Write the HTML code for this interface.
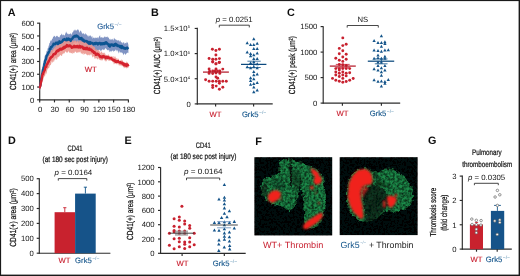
<!DOCTYPE html>
<html><head><meta charset="utf-8"><style>
html,body{margin:0;padding:0;background:#fff;}
#w{position:relative;width:520px;height:276px;overflow:hidden;will-change:transform;background:#fff;}
svg{position:absolute;left:0;top:0;}
text{font-family:"Liberation Sans",sans-serif;text-rendering:geometricPrecision;}
</style></head><body><div id="w">
<svg width="520" height="276" viewBox="0 0 520 276">
<filter id="soft" x="0" y="0" width="100%" height="100%"><feGaussianBlur stdDeviation="0.35"/></filter>
<rect x="0" y="0" width="520" height="276" fill="#fff"/>
<g filter="url(#soft)">
<text x="7.7" y="16" font-size="10.8" fill="#111" font-weight="bold">A</text>
<text x="150.89999999999998" y="16" font-size="10.8" fill="#111" font-weight="bold">B</text>
<text x="286.9" y="16" font-size="10.8" fill="#111" font-weight="bold">C</text>
<text x="8.0" y="144.1" font-size="10.8" fill="#111" font-weight="bold">D</text>
<text x="124.5" y="144.1" font-size="10.8" fill="#111" font-weight="bold">E</text>
<text x="255.2" y="144.6" font-size="10.8" fill="#111" font-weight="bold">F</text>
<text x="428.0" y="144.3" font-size="10.8" fill="#111" font-weight="bold">G</text>
<line x1="39.7" y1="22.8" x2="39.7" y2="100.3" stroke="#2b2b2b" stroke-width="1.15"/>
<line x1="39.2" y1="99.8" x2="128.7" y2="99.8" stroke="#2b2b2b" stroke-width="1.15"/>
<line x1="37.1" y1="99.8" x2="39.7" y2="99.8" stroke="#2b2b2b" stroke-width="1.15"/>
<text x="34.3" y="102.55" font-size="7.7" fill="#161616" text-anchor="end">0</text>
<line x1="37.1" y1="87.03" x2="39.7" y2="87.03" stroke="#2b2b2b" stroke-width="1.15"/>
<text x="34.3" y="89.78" font-size="7.7" fill="#161616" text-anchor="end">100</text>
<line x1="37.1" y1="74.25999999999999" x2="39.7" y2="74.25999999999999" stroke="#2b2b2b" stroke-width="1.15"/>
<text x="34.3" y="77.01" font-size="7.7" fill="#161616" text-anchor="end">200</text>
<line x1="37.1" y1="61.489999999999995" x2="39.7" y2="61.489999999999995" stroke="#2b2b2b" stroke-width="1.15"/>
<text x="34.3" y="64.24" font-size="7.7" fill="#161616" text-anchor="end">300</text>
<line x1="37.1" y1="48.71999999999999" x2="39.7" y2="48.71999999999999" stroke="#2b2b2b" stroke-width="1.15"/>
<text x="34.3" y="51.47" font-size="7.7" fill="#161616" text-anchor="end">400</text>
<line x1="37.1" y1="35.949999999999996" x2="39.7" y2="35.949999999999996" stroke="#2b2b2b" stroke-width="1.15"/>
<text x="34.3" y="38.7" font-size="7.7" fill="#161616" text-anchor="end">500</text>
<line x1="37.1" y1="23.179999999999993" x2="39.7" y2="23.179999999999993" stroke="#2b2b2b" stroke-width="1.15"/>
<text x="34.3" y="25.93" font-size="7.7" fill="#161616" text-anchor="end">600</text>
<line x1="39.7" y1="99.8" x2="39.7" y2="102.39999999999999" stroke="#2b2b2b" stroke-width="1.15"/>
<text x="40.1" y="112.4" font-size="7.7" fill="#161616" text-anchor="middle">0</text>
<line x1="54.483333333333334" y1="99.8" x2="54.483333333333334" y2="102.39999999999999" stroke="#2b2b2b" stroke-width="1.15"/>
<text x="54.88" y="112.4" font-size="7.7" fill="#161616" text-anchor="middle">30</text>
<line x1="69.26666666666668" y1="99.8" x2="69.26666666666668" y2="102.39999999999999" stroke="#2b2b2b" stroke-width="1.15"/>
<text x="69.67" y="112.4" font-size="7.7" fill="#161616" text-anchor="middle">60</text>
<line x1="84.05000000000001" y1="99.8" x2="84.05000000000001" y2="102.39999999999999" stroke="#2b2b2b" stroke-width="1.15"/>
<text x="84.45" y="112.4" font-size="7.7" fill="#161616" text-anchor="middle">90</text>
<line x1="98.83333333333334" y1="99.8" x2="98.83333333333334" y2="102.39999999999999" stroke="#2b2b2b" stroke-width="1.15"/>
<text x="99.23" y="112.4" font-size="7.7" fill="#161616" text-anchor="middle">120</text>
<line x1="113.61666666666667" y1="99.8" x2="113.61666666666667" y2="102.39999999999999" stroke="#2b2b2b" stroke-width="1.15"/>
<text x="114.02" y="112.4" font-size="7.7" fill="#161616" text-anchor="middle">150</text>
<line x1="128.4" y1="99.8" x2="128.4" y2="102.39999999999999" stroke="#2b2b2b" stroke-width="1.15"/>
<text x="128.8" y="112.4" font-size="7.7" fill="#161616" text-anchor="middle">180</text>
<text transform="translate(15.7,61.4) rotate(-90)" font-size="8.8" fill="#111" stroke="#111" stroke-width="0.22" text-anchor="middle" textLength="57.2" lengthAdjust="spacingAndGlyphs">CD41(+) area (μm²)</text>
<path d="M39.70,84.63 L39.95,83.43 L40.19,82.03 L40.44,80.53 L40.69,78.44 L40.93,76.24 L41.18,74.17 L41.42,72.83 L41.67,70.64 L41.92,69.21 L42.16,68.22 L42.41,67.15 L42.66,65.80 L42.90,64.37 L43.15,62.95 L43.40,61.73 L43.64,60.76 L43.89,60.04 L44.14,59.81 L44.38,58.07 L44.63,56.49 L44.87,55.72 L45.12,55.27 L45.37,54.44 L45.61,54.43 L45.86,54.66 L46.11,53.35 L46.35,52.58 L46.60,50.85 L46.85,50.67 L47.09,51.57 L47.34,50.84 L47.58,48.48 L47.83,48.15 L48.08,48.22 L48.32,47.62 L48.57,46.31 L48.82,45.45 L49.06,44.96 L49.31,43.39 L49.56,43.06 L49.80,42.99 L50.05,42.29 L50.29,41.29 L50.54,40.79 L50.79,40.03 L51.03,41.21 L51.28,40.88 L51.53,39.88 L51.77,40.08 L52.02,39.05 L52.27,38.73 L52.51,38.47 L52.76,38.63 L53.01,36.80 L53.25,36.42 L53.50,36.89 L53.74,36.95 L53.99,35.29 L54.24,36.39 L54.48,35.98 L54.73,35.83 L54.98,36.33 L55.22,37.48 L55.47,37.22 L55.72,36.89 L55.96,35.88 L56.21,35.97 L56.45,36.47 L56.70,35.95 L56.95,35.58 L57.19,35.63 L57.44,36.11 L57.69,36.75 L57.93,36.14 L58.18,37.03 L58.43,37.30 L58.67,36.72 L58.92,37.21 L59.16,36.87 L59.41,37.64 L59.66,37.13 L59.90,35.77 L60.15,35.04 L60.40,34.98 L60.64,35.00 L60.89,36.05 L61.14,34.15 L61.38,33.88 L61.63,33.35 L61.88,34.68 L62.12,34.83 L62.37,35.72 L62.61,34.89 L62.86,34.14 L63.11,35.31 L63.35,35.05 L63.60,34.03 L63.85,35.03 L64.09,35.67 L64.34,35.44 L64.59,34.92 L64.83,35.15 L65.08,34.15 L65.32,33.65 L65.57,33.08 L65.82,32.46 L66.06,31.67 L66.31,31.56 L66.56,32.79 L66.80,32.75 L67.05,33.47 L67.30,34.10 L67.54,33.72 L67.79,33.50 L68.03,33.14 L68.28,34.03 L68.53,34.65 L68.77,33.93 L69.02,34.02 L69.27,34.17 L69.51,33.93 L69.76,34.15 L70.01,33.34 L70.25,33.18 L70.50,33.43 L70.75,33.97 L70.99,33.64 L71.24,35.09 L71.48,34.63 L71.73,33.57 L71.98,33.95 L72.22,32.86 L72.47,32.20 L72.72,32.46 L72.96,31.97 L73.21,31.76 L73.46,31.07 L73.70,30.47 L73.95,30.31 L74.19,30.80 L74.44,30.43 L74.69,29.82 L74.93,29.50 L75.18,29.43 L75.43,30.01 L75.67,30.68 L75.92,30.42 L76.17,30.60 L76.41,30.78 L76.66,30.26 L76.90,30.33 L77.15,29.71 L77.40,29.38 L77.64,30.02 L77.89,28.68 L78.14,29.74 L78.38,29.49 L78.63,30.51 L78.88,30.30 L79.12,32.26 L79.37,32.66 L79.62,32.20 L79.86,31.61 L80.11,30.20 L80.35,30.63 L80.60,30.77 L80.85,31.14 L81.09,31.31 L81.34,31.62 L81.59,32.17 L81.83,32.68 L82.08,33.59 L82.33,33.06 L82.57,33.96 L82.82,34.03 L83.06,32.74 L83.31,33.41 L83.56,33.83 L83.80,33.34 L84.05,33.76 L84.30,34.65 L84.54,34.55 L84.79,34.10 L85.04,33.82 L85.28,34.82 L85.53,33.32 L85.77,33.10 L86.02,33.84 L86.27,34.29 L86.51,35.00 L86.76,34.17 L87.01,35.18 L87.25,34.83 L87.50,35.77 L87.75,36.57 L87.99,35.85 L88.24,35.31 L88.49,35.97 L88.73,36.92 L88.98,36.14 L89.22,36.28 L89.47,35.98 L89.72,35.38 L89.96,35.23 L90.21,36.42 L90.46,35.06 L90.70,35.62 L90.95,35.77 L91.20,36.46 L91.44,36.49 L91.69,37.78 L91.93,36.58 L92.18,35.79 L92.43,37.20 L92.67,38.30 L92.92,38.88 L93.17,37.42 L93.41,37.51 L93.66,37.68 L93.91,37.69 L94.15,37.49 L94.40,37.97 L94.64,37.77 L94.89,38.77 L95.14,38.25 L95.38,37.87 L95.63,37.46 L95.88,37.45 L96.12,38.06 L96.37,38.07 L96.62,38.29 L96.86,37.35 L97.11,36.98 L97.36,37.33 L97.60,37.89 L97.85,38.26 L98.09,38.45 L98.34,38.23 L98.59,37.47 L98.83,37.05 L99.08,36.60 L99.33,35.24 L99.57,36.18 L99.82,36.53 L100.07,34.73 L100.31,37.15 L100.56,37.61 L100.80,37.63 L101.05,37.26 L101.30,37.20 L101.54,37.44 L101.79,37.20 L102.04,37.23 L102.28,36.87 L102.53,38.26 L102.78,38.08 L103.02,37.60 L103.27,37.90 L103.51,37.96 L103.76,37.06 L104.01,37.56 L104.25,36.97 L104.50,36.33 L104.75,36.63 L104.99,36.58 L105.24,36.69 L105.49,37.54 L105.73,37.20 L105.98,36.55 L106.23,36.88 L106.47,36.99 L106.72,36.64 L106.96,37.41 L107.21,36.77 L107.46,35.90 L107.70,37.13 L107.95,37.45 L108.20,38.04 L108.44,37.20 L108.69,37.75 L108.94,37.54 L109.18,38.91 L109.43,38.96 L109.67,39.07 L109.92,40.51 L110.17,38.91 L110.41,38.49 L110.66,40.29 L110.91,39.59 L111.15,39.60 L111.40,39.33 L111.65,39.05 L111.89,40.04 L112.14,39.73 L112.38,38.49 L112.63,38.96 L112.88,39.55 L113.12,40.12 L113.37,40.76 L113.62,39.78 L113.86,38.29 L114.11,38.51 L114.36,38.83 L114.60,37.40 L114.85,38.92 L115.10,39.63 L115.34,38.93 L115.59,39.00 L115.83,39.87 L116.08,40.25 L116.33,39.80 L116.57,39.53 L116.82,40.35 L117.07,40.44 L117.31,40.70 L117.56,40.21 L117.81,40.27 L118.05,40.45 L118.30,40.82 L118.54,40.34 L118.79,39.88 L119.04,40.62 L119.28,40.39 L119.53,41.50 L119.78,41.69 L120.02,40.88 L120.27,40.10 L120.52,40.91 L120.76,41.70 L121.01,41.63 L121.25,42.69 L121.50,42.11 L121.75,42.38 L121.99,41.97 L122.24,42.65 L122.49,43.99 L122.73,43.10 L122.98,42.56 L123.23,42.97 L123.47,42.02 L123.72,42.11 L123.97,42.85 L124.21,42.60 L124.46,43.70 L124.70,43.78 L124.95,43.55 L125.20,43.03 L125.44,42.97 L125.69,42.74 L125.94,43.59 L126.18,43.51 L126.43,42.16 L126.68,42.95 L126.92,41.24 L127.17,42.30 L127.41,42.71 L127.66,42.73 L127.91,42.60 L128.15,43.88 L128.40,45.07 L128.40,53.49 L128.15,52.63 L127.91,53.12 L127.66,52.54 L127.41,52.64 L127.17,52.78 L126.92,52.63 L126.68,53.56 L126.43,53.60 L126.18,53.75 L125.94,53.99 L125.69,54.47 L125.44,55.21 L125.20,54.46 L124.95,53.95 L124.70,53.22 L124.46,53.19 L124.21,53.71 L123.97,53.93 L123.72,54.30 L123.47,54.94 L123.23,55.27 L122.98,54.30 L122.73,53.28 L122.49,52.90 L122.24,52.77 L121.99,52.55 L121.75,52.40 L121.50,52.55 L121.25,52.16 L121.01,53.26 L120.76,52.50 L120.52,51.65 L120.27,52.71 L120.02,52.27 L119.78,52.86 L119.53,51.93 L119.28,50.47 L119.04,51.22 L118.79,53.48 L118.54,53.29 L118.30,51.99 L118.05,51.05 L117.81,51.62 L117.56,51.05 L117.31,50.06 L117.07,49.91 L116.82,49.74 L116.57,50.75 L116.33,51.73 L116.08,50.18 L115.83,49.02 L115.59,49.90 L115.34,50.33 L115.10,50.64 L114.85,51.16 L114.60,50.94 L114.36,50.52 L114.11,51.02 L113.86,51.42 L113.62,52.29 L113.37,51.12 L113.12,50.38 L112.88,50.63 L112.63,50.30 L112.38,51.07 L112.14,50.70 L111.89,50.78 L111.65,51.25 L111.40,52.56 L111.15,50.98 L110.91,51.51 L110.66,51.17 L110.41,51.32 L110.17,51.74 L109.92,49.62 L109.67,51.14 L109.43,52.39 L109.18,51.56 L108.94,51.39 L108.69,49.14 L108.44,50.24 L108.20,50.02 L107.95,50.24 L107.70,50.40 L107.46,49.74 L107.21,49.92 L106.96,50.35 L106.72,49.33 L106.47,49.12 L106.23,48.79 L105.98,48.60 L105.73,48.62 L105.49,48.08 L105.24,48.21 L104.99,48.73 L104.75,49.04 L104.50,49.38 L104.25,49.91 L104.01,49.76 L103.76,50.12 L103.51,50.19 L103.27,49.24 L103.02,49.48 L102.78,49.62 L102.53,49.26 L102.28,49.14 L102.04,50.06 L101.79,50.66 L101.54,50.09 L101.30,51.02 L101.05,50.14 L100.80,51.34 L100.56,50.69 L100.31,50.53 L100.07,50.22 L99.82,50.23 L99.57,49.53 L99.33,49.46 L99.08,49.94 L98.83,49.90 L98.59,49.80 L98.34,50.24 L98.09,51.68 L97.85,50.50 L97.60,50.13 L97.36,50.31 L97.11,50.88 L96.86,51.16 L96.62,50.00 L96.37,50.62 L96.12,50.49 L95.88,49.99 L95.63,50.44 L95.38,51.74 L95.14,50.80 L94.89,50.42 L94.64,50.37 L94.40,49.78 L94.15,50.09 L93.91,49.38 L93.66,50.18 L93.41,49.35 L93.17,50.06 L92.92,50.09 L92.67,49.73 L92.43,48.18 L92.18,49.69 L91.93,50.39 L91.69,50.55 L91.44,48.44 L91.20,48.82 L90.95,49.41 L90.70,50.09 L90.46,50.57 L90.21,48.89 L89.96,48.82 L89.72,48.90 L89.47,49.33 L89.22,48.80 L88.98,49.37 L88.73,50.97 L88.49,49.88 L88.24,48.54 L87.99,48.04 L87.75,48.92 L87.50,48.76 L87.25,47.89 L87.01,49.03 L86.76,47.73 L86.51,48.55 L86.27,47.07 L86.02,46.40 L85.77,47.99 L85.53,47.22 L85.28,47.50 L85.04,47.91 L84.79,47.93 L84.54,45.62 L84.30,46.60 L84.05,46.93 L83.80,46.07 L83.56,46.55 L83.31,45.49 L83.06,47.22 L82.82,46.42 L82.57,46.25 L82.33,45.34 L82.08,45.62 L81.83,46.30 L81.59,45.50 L81.34,45.26 L81.09,45.98 L80.85,45.09 L80.60,45.01 L80.35,45.07 L80.11,44.23 L79.86,44.36 L79.62,44.95 L79.37,44.81 L79.12,44.11 L78.88,43.83 L78.63,43.44 L78.38,43.45 L78.14,42.75 L77.89,41.80 L77.64,42.30 L77.40,41.69 L77.15,41.64 L76.90,41.95 L76.66,42.61 L76.41,43.14 L76.17,43.00 L75.92,42.04 L75.67,41.61 L75.43,41.52 L75.18,42.77 L74.93,42.83 L74.69,41.79 L74.44,42.68 L74.19,42.31 L73.95,42.80 L73.70,42.51 L73.46,43.32 L73.21,43.55 L72.96,43.87 L72.72,44.18 L72.47,45.61 L72.22,44.46 L71.98,45.74 L71.73,46.65 L71.48,45.79 L71.24,46.05 L70.99,46.83 L70.75,46.13 L70.50,46.48 L70.25,46.52 L70.01,45.87 L69.76,47.88 L69.51,46.45 L69.27,46.07 L69.02,44.66 L68.77,45.05 L68.53,45.82 L68.28,46.20 L68.03,46.68 L67.79,46.33 L67.54,46.52 L67.30,46.56 L67.05,45.91 L66.80,45.34 L66.56,46.34 L66.31,46.77 L66.06,47.23 L65.82,46.30 L65.57,46.96 L65.32,46.50 L65.08,45.51 L64.83,46.52 L64.59,46.90 L64.34,46.27 L64.09,45.85 L63.85,45.99 L63.60,46.67 L63.35,47.34 L63.11,47.22 L62.86,45.25 L62.61,46.11 L62.37,47.65 L62.12,46.71 L61.88,46.36 L61.63,46.61 L61.38,46.69 L61.14,46.40 L60.89,47.60 L60.64,47.82 L60.40,47.66 L60.15,47.81 L59.90,48.87 L59.66,49.37 L59.41,49.60 L59.16,49.70 L58.92,48.80 L58.67,49.94 L58.43,49.08 L58.18,49.34 L57.93,48.98 L57.69,49.52 L57.44,49.73 L57.19,48.66 L56.95,49.17 L56.70,48.91 L56.45,47.82 L56.21,48.90 L55.96,49.35 L55.72,49.75 L55.47,49.64 L55.22,49.64 L54.98,48.53 L54.73,48.97 L54.48,48.34 L54.24,49.35 L53.99,49.65 L53.74,49.22 L53.50,50.49 L53.25,50.81 L53.01,50.64 L52.76,51.94 L52.51,53.27 L52.27,53.64 L52.02,52.53 L51.77,52.86 L51.53,52.59 L51.28,53.47 L51.03,53.92 L50.79,54.36 L50.54,54.87 L50.29,55.35 L50.05,56.60 L49.80,56.08 L49.56,56.26 L49.31,56.35 L49.06,57.38 L48.82,57.77 L48.57,59.56 L48.32,58.83 L48.08,59.44 L47.83,60.95 L47.58,60.64 L47.34,61.21 L47.09,62.87 L46.85,62.49 L46.60,62.97 L46.35,64.09 L46.11,64.76 L45.86,65.45 L45.61,66.88 L45.37,67.55 L45.12,68.22 L44.87,69.09 L44.63,70.58 L44.38,71.28 L44.14,71.92 L43.89,72.49 L43.64,72.81 L43.40,72.97 L43.15,75.45 L42.90,77.55 L42.66,79.00 L42.41,81.65 L42.16,80.86 L41.92,81.62 L41.67,81.14 L41.42,83.00 L41.18,83.93 L40.93,85.63 L40.69,86.90 L40.44,88.10 L40.19,89.39 L39.95,90.15 L39.70,91.00Z" fill="#8094c3" opacity="1.0"/>
<path d="M39.70,85.02 L39.95,83.74 L40.19,82.10 L40.44,80.66 L40.69,79.61 L40.93,77.71 L41.18,75.67 L41.42,73.42 L41.67,71.82 L41.92,70.83 L42.16,70.69 L42.41,70.29 L42.66,68.99 L42.90,68.07 L43.15,68.15 L43.40,67.49 L43.64,66.86 L43.89,65.71 L44.14,64.87 L44.38,64.43 L44.63,64.35 L44.87,62.79 L45.12,61.16 L45.37,60.90 L45.61,60.20 L45.86,59.98 L46.11,59.51 L46.35,59.29 L46.60,59.41 L46.85,58.70 L47.09,57.45 L47.34,57.50 L47.58,55.96 L47.83,54.70 L48.08,54.25 L48.32,53.33 L48.57,53.59 L48.82,54.16 L49.06,54.37 L49.31,54.31 L49.56,53.57 L49.80,53.16 L50.05,52.42 L50.29,53.51 L50.54,51.39 L50.79,49.96 L51.03,50.83 L51.28,50.57 L51.53,50.02 L51.77,49.89 L52.02,50.21 L52.27,50.01 L52.51,50.39 L52.76,49.99 L53.01,49.69 L53.25,48.95 L53.50,49.15 L53.74,48.60 L53.99,48.29 L54.24,47.70 L54.48,48.01 L54.73,47.23 L54.98,46.52 L55.22,46.52 L55.47,47.03 L55.72,46.71 L55.96,46.71 L56.21,45.87 L56.45,44.72 L56.70,45.12 L56.95,45.58 L57.19,45.31 L57.44,45.22 L57.69,45.40 L57.93,45.61 L58.18,45.02 L58.43,44.48 L58.67,45.17 L58.92,45.27 L59.16,44.13 L59.41,44.82 L59.66,44.05 L59.90,43.41 L60.15,43.45 L60.40,43.82 L60.64,43.55 L60.89,43.54 L61.14,42.96 L61.38,43.77 L61.63,42.63 L61.88,43.84 L62.12,43.59 L62.37,43.17 L62.61,42.05 L62.86,42.49 L63.11,41.65 L63.35,42.14 L63.60,41.59 L63.85,40.16 L64.09,40.76 L64.34,40.35 L64.59,41.17 L64.83,40.12 L65.08,39.35 L65.32,39.57 L65.57,40.48 L65.82,39.75 L66.06,39.08 L66.31,38.81 L66.56,38.94 L66.80,40.31 L67.05,40.53 L67.30,39.35 L67.54,40.40 L67.79,39.38 L68.03,38.48 L68.28,38.67 L68.53,38.62 L68.77,39.55 L69.02,40.72 L69.27,40.54 L69.51,40.57 L69.76,40.42 L70.01,39.83 L70.25,40.01 L70.50,40.30 L70.75,40.17 L70.99,40.44 L71.24,39.19 L71.48,39.73 L71.73,40.19 L71.98,40.59 L72.22,41.08 L72.47,39.87 L72.72,40.14 L72.96,40.86 L73.21,41.27 L73.46,41.36 L73.70,41.20 L73.95,40.18 L74.19,41.02 L74.44,40.45 L74.69,40.30 L74.93,41.32 L75.18,40.82 L75.43,40.83 L75.67,40.24 L75.92,40.62 L76.17,40.70 L76.41,42.02 L76.66,42.04 L76.90,41.00 L77.15,40.32 L77.40,40.55 L77.64,41.15 L77.89,40.46 L78.14,42.04 L78.38,42.07 L78.63,40.92 L78.88,40.46 L79.12,40.99 L79.37,41.75 L79.62,39.97 L79.86,39.87 L80.11,40.62 L80.35,40.47 L80.60,39.93 L80.85,42.02 L81.09,40.77 L81.34,40.45 L81.59,41.77 L81.83,40.79 L82.08,42.04 L82.33,41.18 L82.57,41.04 L82.82,39.88 L83.06,41.24 L83.31,41.70 L83.56,41.56 L83.80,42.24 L84.05,42.74 L84.30,42.37 L84.54,42.28 L84.79,42.93 L85.04,42.05 L85.28,41.70 L85.53,41.83 L85.77,40.98 L86.02,41.91 L86.27,41.10 L86.51,41.86 L86.76,41.35 L87.01,43.10 L87.25,42.73 L87.50,42.98 L87.75,43.14 L87.99,43.73 L88.24,43.73 L88.49,43.91 L88.73,44.92 L88.98,44.84 L89.22,44.57 L89.47,44.72 L89.72,45.28 L89.96,45.22 L90.21,44.33 L90.46,44.42 L90.70,44.97 L90.95,44.24 L91.20,44.13 L91.44,43.72 L91.69,43.56 L91.93,44.73 L92.18,45.59 L92.43,45.29 L92.67,46.01 L92.92,46.04 L93.17,46.07 L93.41,46.29 L93.66,46.93 L93.91,46.83 L94.15,47.26 L94.40,47.27 L94.64,46.85 L94.89,47.36 L95.14,47.69 L95.38,48.95 L95.63,49.96 L95.88,49.92 L96.12,49.35 L96.37,48.63 L96.62,49.82 L96.86,49.48 L97.11,50.51 L97.36,50.56 L97.60,50.47 L97.85,49.80 L98.09,50.21 L98.34,49.81 L98.59,51.03 L98.83,50.35 L99.08,50.37 L99.33,51.00 L99.57,51.34 L99.82,52.06 L100.07,52.74 L100.31,53.02 L100.56,53.28 L100.80,51.05 L101.05,51.79 L101.30,50.93 L101.54,51.55 L101.79,52.04 L102.04,52.10 L102.28,53.17 L102.53,52.61 L102.78,52.71 L103.02,53.73 L103.27,53.11 L103.51,53.06 L103.76,52.78 L104.01,51.91 L104.25,52.82 L104.50,52.91 L104.75,53.07 L104.99,54.22 L105.24,53.27 L105.49,54.69 L105.73,55.54 L105.98,54.68 L106.23,55.23 L106.47,54.86 L106.72,55.61 L106.96,54.78 L107.21,55.42 L107.46,54.61 L107.70,55.67 L107.95,54.80 L108.20,54.85 L108.44,54.69 L108.69,54.58 L108.94,54.54 L109.18,55.31 L109.43,56.57 L109.67,55.73 L109.92,56.06 L110.17,56.06 L110.41,55.56 L110.66,56.86 L110.91,56.82 L111.15,56.25 L111.40,56.49 L111.65,55.73 L111.89,55.91 L112.14,56.54 L112.38,57.03 L112.63,56.13 L112.88,56.83 L113.12,56.09 L113.37,56.08 L113.62,57.39 L113.86,58.15 L114.11,57.68 L114.36,57.19 L114.60,56.69 L114.85,56.37 L115.10,56.11 L115.34,56.92 L115.59,57.65 L115.83,57.39 L116.08,58.37 L116.33,57.63 L116.57,58.97 L116.82,58.36 L117.07,58.71 L117.31,60.09 L117.56,58.63 L117.81,58.19 L118.05,58.37 L118.30,59.01 L118.54,59.43 L118.79,58.60 L119.04,59.56 L119.28,61.91 L119.53,61.57 L119.78,61.54 L120.02,60.38 L120.27,60.38 L120.52,60.68 L120.76,60.81 L121.01,59.75 L121.25,60.66 L121.50,58.83 L121.75,59.88 L121.99,60.71 L122.24,60.08 L122.49,59.84 L122.73,61.08 L122.98,60.80 L123.23,62.54 L123.47,62.61 L123.72,61.38 L123.97,61.62 L124.21,62.86 L124.46,62.22 L124.70,61.71 L124.95,62.21 L125.20,63.64 L125.44,63.29 L125.69,62.61 L125.94,62.09 L126.18,61.01 L126.43,61.94 L126.68,62.53 L126.92,62.59 L127.17,61.76 L127.41,62.76 L127.66,61.92 L127.91,64.08 L128.15,63.12 L128.40,63.11 L128.40,68.09 L128.15,67.70 L127.91,68.37 L127.66,68.06 L127.41,68.10 L127.17,67.13 L126.92,68.41 L126.68,68.56 L126.43,68.01 L126.18,68.37 L125.94,67.11 L125.69,67.79 L125.44,67.84 L125.20,67.98 L124.95,68.15 L124.70,67.49 L124.46,67.48 L124.21,67.75 L123.97,68.73 L123.72,67.33 L123.47,67.07 L123.23,67.04 L122.98,66.47 L122.73,65.66 L122.49,65.74 L122.24,66.23 L121.99,66.54 L121.75,65.90 L121.50,64.34 L121.25,66.21 L121.01,65.35 L120.76,66.00 L120.52,65.87 L120.27,64.82 L120.02,64.67 L119.78,64.91 L119.53,66.11 L119.28,65.06 L119.04,65.78 L118.79,65.22 L118.54,64.15 L118.30,63.94 L118.05,64.57 L117.81,64.40 L117.56,63.18 L117.31,63.44 L117.07,64.14 L116.82,64.70 L116.57,62.78 L116.33,63.16 L116.08,63.93 L115.83,63.86 L115.59,62.88 L115.34,62.39 L115.10,62.00 L114.85,63.02 L114.60,63.64 L114.36,64.07 L114.11,64.17 L113.86,64.56 L113.62,63.44 L113.37,62.48 L113.12,61.46 L112.88,62.44 L112.63,62.11 L112.38,61.84 L112.14,61.77 L111.89,60.69 L111.65,60.43 L111.40,60.68 L111.15,59.88 L110.91,60.58 L110.66,60.46 L110.41,60.94 L110.17,60.17 L109.92,60.91 L109.67,60.60 L109.43,60.42 L109.18,60.71 L108.94,60.31 L108.69,60.93 L108.44,60.55 L108.20,60.44 L107.95,59.53 L107.70,60.25 L107.46,60.10 L107.21,60.12 L106.96,60.29 L106.72,60.89 L106.47,60.60 L106.23,61.17 L105.98,62.16 L105.73,61.05 L105.49,61.13 L105.24,60.59 L104.99,59.73 L104.75,60.30 L104.50,60.64 L104.25,60.32 L104.01,58.75 L103.76,59.82 L103.51,58.91 L103.27,58.85 L103.02,58.92 L102.78,60.66 L102.53,60.27 L102.28,59.92 L102.04,60.54 L101.79,60.57 L101.54,59.57 L101.30,60.19 L101.05,60.76 L100.80,60.16 L100.56,59.90 L100.31,60.17 L100.07,59.70 L99.82,60.07 L99.57,59.49 L99.33,59.18 L99.08,59.66 L98.83,59.31 L98.59,58.77 L98.34,57.99 L98.09,58.53 L97.85,59.28 L97.60,59.87 L97.36,58.96 L97.11,58.95 L96.86,58.35 L96.62,58.42 L96.37,58.17 L96.12,58.17 L95.88,58.64 L95.63,57.81 L95.38,57.83 L95.14,59.29 L94.89,59.03 L94.64,58.70 L94.40,57.59 L94.15,57.17 L93.91,56.40 L93.66,56.81 L93.41,56.13 L93.17,56.58 L92.92,57.01 L92.67,57.77 L92.43,56.82 L92.18,56.84 L91.93,55.80 L91.69,55.18 L91.44,54.43 L91.20,53.89 L90.95,54.66 L90.70,54.21 L90.46,54.27 L90.21,55.21 L89.96,55.38 L89.72,55.71 L89.47,54.56 L89.22,54.87 L88.98,55.32 L88.73,55.29 L88.49,54.23 L88.24,54.92 L87.99,55.04 L87.75,54.82 L87.50,55.88 L87.25,55.08 L87.01,54.70 L86.76,54.69 L86.51,54.07 L86.27,54.70 L86.02,54.54 L85.77,53.82 L85.53,53.40 L85.28,53.60 L85.04,54.10 L84.79,53.86 L84.54,54.04 L84.30,54.21 L84.05,54.75 L83.80,55.20 L83.56,54.00 L83.31,52.89 L83.06,53.26 L82.82,54.33 L82.57,54.14 L82.33,53.98 L82.08,53.08 L81.83,53.50 L81.59,53.13 L81.34,53.23 L81.09,53.99 L80.85,53.29 L80.60,52.48 L80.35,51.65 L80.11,51.18 L79.86,51.81 L79.62,52.16 L79.37,52.82 L79.12,51.72 L78.88,52.85 L78.63,51.57 L78.38,52.31 L78.14,52.72 L77.89,52.04 L77.64,52.23 L77.40,52.66 L77.15,53.10 L76.90,52.68 L76.66,52.75 L76.41,52.59 L76.17,52.88 L75.92,51.50 L75.67,51.46 L75.43,51.78 L75.18,52.36 L74.93,51.48 L74.69,52.14 L74.44,52.79 L74.19,53.17 L73.95,53.21 L73.70,53.19 L73.46,52.72 L73.21,53.17 L72.96,51.85 L72.72,53.34 L72.47,53.41 L72.22,53.98 L71.98,53.29 L71.73,53.06 L71.48,53.42 L71.24,53.03 L70.99,52.81 L70.75,53.28 L70.50,53.02 L70.25,51.98 L70.01,52.97 L69.76,52.61 L69.51,52.51 L69.27,52.63 L69.02,52.20 L68.77,51.78 L68.53,50.38 L68.28,51.48 L68.03,51.58 L67.79,53.04 L67.54,51.77 L67.30,52.92 L67.05,52.39 L66.80,52.00 L66.56,52.52 L66.31,53.29 L66.06,52.04 L65.82,51.43 L65.57,51.53 L65.32,51.46 L65.08,51.67 L64.83,52.57 L64.59,53.68 L64.34,53.22 L64.09,53.07 L63.85,53.29 L63.60,53.43 L63.35,53.66 L63.11,53.57 L62.86,54.19 L62.61,53.48 L62.37,54.33 L62.12,55.40 L61.88,55.73 L61.63,55.81 L61.38,56.20 L61.14,55.39 L60.89,55.50 L60.64,55.11 L60.40,54.71 L60.15,55.35 L59.90,55.73 L59.66,55.55 L59.41,56.29 L59.16,56.41 L58.92,57.19 L58.67,55.93 L58.43,57.62 L58.18,57.23 L57.93,57.10 L57.69,56.96 L57.44,58.42 L57.19,59.08 L56.95,60.23 L56.70,59.64 L56.45,59.49 L56.21,58.52 L55.96,57.92 L55.72,57.75 L55.47,59.94 L55.22,59.40 L54.98,58.25 L54.73,59.45 L54.48,60.05 L54.24,60.79 L53.99,61.96 L53.74,61.88 L53.50,61.75 L53.25,60.26 L53.01,60.67 L52.76,62.26 L52.51,62.81 L52.27,62.43 L52.02,62.37 L51.77,61.27 L51.53,61.84 L51.28,63.52 L51.03,64.35 L50.79,65.01 L50.54,65.00 L50.29,65.30 L50.05,65.16 L49.80,65.64 L49.56,66.34 L49.31,67.54 L49.06,67.97 L48.82,67.95 L48.57,68.71 L48.32,67.78 L48.08,68.60 L47.83,69.22 L47.58,69.34 L47.34,69.56 L47.09,70.85 L46.85,72.34 L46.60,72.98 L46.35,73.74 L46.11,74.41 L45.86,72.38 L45.61,73.87 L45.37,74.36 L45.12,75.74 L44.87,75.93 L44.63,76.11 L44.38,76.84 L44.14,76.44 L43.89,77.16 L43.64,77.62 L43.40,78.47 L43.15,80.20 L42.90,80.52 L42.66,82.08 L42.41,82.02 L42.16,82.74 L41.92,83.18 L41.67,86.19 L41.42,85.86 L41.18,86.15 L40.93,86.70 L40.69,87.90 L40.44,89.07 L40.19,89.69 L39.95,89.98 L39.70,90.65Z" fill="#ec948c" opacity="0.88"/>
<path d="M39.70,87.97 L39.95,86.99 L40.19,85.96 L40.44,84.57 L40.69,82.57 L40.93,81.10 L41.18,79.28 L41.42,77.65 L41.67,76.21 L41.92,74.73 L42.16,74.44 L42.41,73.32 L42.66,71.82 L42.90,69.84 L43.15,68.95 L43.40,68.32 L43.64,67.51 L43.89,66.82 L44.14,65.95 L44.38,63.85 L44.63,63.54 L44.87,62.73 L45.12,60.89 L45.37,60.24 L45.61,59.83 L45.86,59.62 L46.11,58.80 L46.35,57.13 L46.60,56.50 L46.85,55.45 L47.09,55.43 L47.34,54.98 L47.58,54.78 L47.83,54.06 L48.08,52.89 L48.32,53.30 L48.57,52.64 L48.82,52.00 L49.06,51.81 L49.31,51.09 L49.56,50.24 L49.80,48.91 L50.05,48.61 L50.29,48.63 L50.54,49.07 L50.79,47.19 L51.03,47.36 L51.28,47.08 L51.53,47.16 L51.77,46.75 L52.02,46.75 L52.27,46.12 L52.51,45.75 L52.76,45.37 L53.01,44.89 L53.25,44.94 L53.50,43.63 L53.74,43.93 L53.99,44.49 L54.24,44.10 L54.48,43.96 L54.73,44.12 L54.98,43.86 L55.22,43.56 L55.47,44.09 L55.72,43.78 L55.96,42.58 L56.21,42.77 L56.45,43.22 L56.70,43.04 L56.95,42.77 L57.19,42.61 L57.44,42.52 L57.69,43.07 L57.93,44.03 L58.18,43.47 L58.43,43.68 L58.67,42.74 L58.92,42.74 L59.16,42.41 L59.41,41.27 L59.66,42.14 L59.90,42.27 L60.15,42.44 L60.40,42.90 L60.64,42.78 L60.89,41.98 L61.14,41.69 L61.38,42.03 L61.63,41.97 L61.88,41.33 L62.12,41.58 L62.37,41.25 L62.61,41.12 L62.86,40.42 L63.11,39.60 L63.35,39.90 L63.60,40.00 L63.85,40.03 L64.09,39.34 L64.34,39.09 L64.59,39.65 L64.83,39.55 L65.08,39.37 L65.32,39.56 L65.57,39.85 L65.82,40.10 L66.06,39.88 L66.31,40.34 L66.56,39.00 L66.80,38.49 L67.05,39.40 L67.30,38.86 L67.54,38.80 L67.79,40.11 L68.03,39.06 L68.28,38.83 L68.53,38.50 L68.77,39.59 L69.02,39.64 L69.27,39.76 L69.51,39.78 L69.76,39.70 L70.01,39.25 L70.25,40.27 L70.50,40.67 L70.75,40.96 L70.99,40.40 L71.24,40.15 L71.48,39.43 L71.73,38.98 L71.98,38.83 L72.22,38.86 L72.47,38.64 L72.72,37.52 L72.96,37.14 L73.21,37.28 L73.46,37.45 L73.70,36.54 L73.95,36.83 L74.19,36.43 L74.44,35.81 L74.69,35.80 L74.93,35.77 L75.18,36.50 L75.43,35.81 L75.67,35.82 L75.92,36.63 L76.17,36.05 L76.41,36.35 L76.66,35.50 L76.90,36.12 L77.15,35.90 L77.40,35.85 L77.64,36.35 L77.89,36.38 L78.14,36.91 L78.38,36.68 L78.63,37.43 L78.88,37.61 L79.12,38.90 L79.37,38.06 L79.62,38.18 L79.86,38.98 L80.11,38.50 L80.35,38.03 L80.60,38.05 L80.85,39.05 L81.09,38.41 L81.34,38.85 L81.59,37.85 L81.83,39.19 L82.08,39.09 L82.33,39.93 L82.57,40.48 L82.82,40.10 L83.06,39.93 L83.31,39.44 L83.56,39.74 L83.80,40.55 L84.05,41.38 L84.30,41.42 L84.54,41.56 L84.79,41.52 L85.04,40.90 L85.28,40.94 L85.53,40.82 L85.77,41.08 L86.02,41.18 L86.27,41.27 L86.51,41.10 L86.76,40.91 L87.01,41.68 L87.25,42.39 L87.50,41.77 L87.75,42.28 L87.99,41.84 L88.24,43.14 L88.49,43.25 L88.73,43.31 L88.98,43.69 L89.22,43.44 L89.47,42.60 L89.72,42.39 L89.96,42.01 L90.21,43.18 L90.46,43.75 L90.70,42.97 L90.95,42.76 L91.20,42.72 L91.44,43.40 L91.69,42.93 L91.93,43.08 L92.18,42.90 L92.43,43.48 L92.67,43.52 L92.92,43.24 L93.17,43.74 L93.41,44.40 L93.66,44.07 L93.91,43.63 L94.15,43.56 L94.40,43.09 L94.64,43.78 L94.89,44.06 L95.14,44.12 L95.38,43.89 L95.63,43.24 L95.88,43.55 L96.12,42.80 L96.37,43.06 L96.62,43.36 L96.86,43.83 L97.11,43.16 L97.36,43.73 L97.60,44.07 L97.85,44.58 L98.09,43.94 L98.34,43.29 L98.59,43.13 L98.83,43.23 L99.08,43.36 L99.33,43.09 L99.57,43.56 L99.82,42.91 L100.07,43.08 L100.31,43.88 L100.56,44.10 L100.80,44.46 L101.05,43.48 L101.30,43.23 L101.54,44.09 L101.79,43.44 L102.04,43.12 L102.28,43.72 L102.53,44.29 L102.78,43.89 L103.02,43.80 L103.27,43.21 L103.51,43.14 L103.76,43.99 L104.01,43.52 L104.25,44.08 L104.50,42.97 L104.75,43.78 L104.99,43.85 L105.24,43.70 L105.49,43.42 L105.73,42.50 L105.98,42.13 L106.23,42.11 L106.47,42.43 L106.72,43.57 L106.96,43.55 L107.21,43.46 L107.46,43.88 L107.70,43.56 L107.95,44.10 L108.20,44.58 L108.44,44.88 L108.69,45.72 L108.94,44.77 L109.18,44.48 L109.43,44.64 L109.67,45.32 L109.92,46.67 L110.17,45.65 L110.41,44.80 L110.66,45.18 L110.91,44.99 L111.15,44.50 L111.40,44.51 L111.65,45.05 L111.89,44.53 L112.14,44.38 L112.38,45.37 L112.63,45.12 L112.88,45.49 L113.12,45.07 L113.37,44.98 L113.62,45.39 L113.86,45.93 L114.11,44.84 L114.36,44.87 L114.60,44.07 L114.85,45.49 L115.10,44.85 L115.34,43.78 L115.59,43.75 L115.83,44.61 L116.08,44.57 L116.33,45.00 L116.57,44.63 L116.82,44.41 L117.07,45.09 L117.31,46.07 L117.56,45.58 L117.81,45.88 L118.05,45.67 L118.30,45.86 L118.54,45.55 L118.79,45.68 L119.04,46.34 L119.28,46.41 L119.53,46.01 L119.78,47.02 L120.02,46.57 L120.27,46.13 L120.52,45.92 L120.76,46.70 L121.01,47.61 L121.25,47.99 L121.50,47.28 L121.75,47.02 L121.99,46.02 L122.24,47.08 L122.49,47.06 L122.73,46.93 L122.98,48.05 L123.23,48.36 L123.47,47.80 L123.72,47.71 L123.97,47.96 L124.21,47.85 L124.46,48.34 L124.70,48.02 L124.95,48.52 L125.20,48.88 L125.44,48.16 L125.69,48.40 L125.94,48.47 L126.18,47.99 L126.43,48.09 L126.68,48.20 L126.92,47.63 L127.17,47.92 L127.41,47.64 L127.66,48.49 L127.91,48.41 L128.15,48.83 L128.40,49.08" fill="none" stroke="#115492" stroke-width="2.3" stroke-linejoin="round"/>
<path d="M39.70,88.15 L39.95,87.05 L40.19,86.15 L40.44,85.24 L40.69,83.57 L40.93,82.60 L41.18,81.26 L41.42,80.03 L41.67,78.87 L41.92,78.23 L42.16,76.48 L42.41,74.74 L42.66,74.66 L42.90,73.49 L43.15,74.25 L43.40,72.70 L43.64,72.42 L43.89,71.50 L44.14,71.18 L44.38,70.75 L44.63,70.32 L44.87,69.72 L45.12,68.14 L45.37,66.97 L45.61,67.17 L45.86,67.10 L46.11,66.90 L46.35,66.91 L46.60,65.01 L46.85,64.66 L47.09,64.14 L47.34,63.61 L47.58,63.77 L47.83,62.47 L48.08,62.14 L48.32,62.17 L48.57,61.23 L48.82,61.43 L49.06,60.43 L49.31,60.31 L49.56,59.85 L49.80,59.10 L50.05,58.69 L50.29,58.00 L50.54,58.52 L50.79,57.40 L51.03,57.13 L51.28,57.32 L51.53,56.63 L51.77,56.84 L52.02,56.70 L52.27,56.83 L52.51,56.27 L52.76,55.98 L53.01,55.14 L53.25,54.55 L53.50,54.16 L53.74,54.36 L53.99,54.36 L54.24,54.32 L54.48,53.62 L54.73,54.19 L54.98,53.32 L55.22,54.08 L55.47,53.87 L55.72,52.85 L55.96,52.89 L56.21,51.73 L56.45,51.80 L56.70,51.01 L56.95,50.72 L57.19,51.44 L57.44,51.33 L57.69,50.40 L57.93,50.86 L58.18,50.57 L58.43,50.98 L58.67,50.69 L58.92,50.57 L59.16,50.07 L59.41,49.62 L59.66,48.95 L59.90,49.11 L60.15,49.22 L60.40,48.76 L60.64,49.16 L60.89,49.65 L61.14,48.76 L61.38,49.62 L61.63,48.87 L61.88,49.41 L62.12,48.47 L62.37,49.14 L62.61,48.32 L62.86,47.68 L63.11,48.11 L63.35,47.44 L63.60,48.16 L63.85,48.41 L64.09,47.40 L64.34,46.73 L64.59,46.96 L64.83,47.79 L65.08,47.02 L65.32,46.65 L65.57,46.53 L65.82,46.19 L66.06,46.87 L66.31,46.71 L66.56,45.71 L66.80,44.99 L67.05,45.67 L67.30,46.19 L67.54,45.94 L67.79,45.46 L68.03,45.52 L68.28,46.36 L68.53,46.23 L68.77,46.21 L69.02,45.74 L69.27,45.53 L69.51,45.80 L69.76,45.55 L70.01,46.11 L70.25,45.48 L70.50,46.45 L70.75,46.42 L70.99,46.26 L71.24,46.78 L71.48,47.23 L71.73,47.86 L71.98,47.26 L72.22,47.10 L72.47,46.93 L72.72,46.63 L72.96,47.44 L73.21,47.20 L73.46,47.22 L73.70,47.00 L73.95,46.46 L74.19,45.75 L74.44,46.41 L74.69,46.86 L74.93,47.17 L75.18,46.74 L75.43,46.51 L75.67,46.84 L75.92,46.25 L76.17,47.23 L76.41,46.91 L76.66,46.63 L76.90,46.61 L77.15,45.92 L77.40,46.60 L77.64,46.97 L77.89,46.91 L78.14,46.65 L78.38,47.49 L78.63,46.93 L78.88,47.26 L79.12,46.52 L79.37,45.76 L79.62,45.90 L79.86,46.07 L80.11,46.15 L80.35,47.61 L80.60,46.73 L80.85,46.59 L81.09,46.69 L81.34,47.13 L81.59,47.18 L81.83,47.05 L82.08,46.55 L82.33,47.24 L82.57,46.81 L82.82,48.44 L83.06,48.44 L83.31,48.24 L83.56,48.58 L83.80,49.17 L84.05,49.07 L84.30,47.77 L84.54,48.55 L84.79,48.83 L85.04,48.79 L85.28,48.67 L85.53,48.13 L85.77,48.03 L86.02,49.25 L86.27,48.01 L86.51,48.36 L86.76,48.37 L87.01,47.66 L87.25,48.14 L87.50,49.07 L87.75,49.06 L87.99,49.50 L88.24,49.67 L88.49,49.39 L88.73,48.67 L88.98,48.94 L89.22,49.64 L89.47,48.42 L89.72,49.68 L89.96,49.98 L90.21,49.91 L90.46,49.45 L90.70,50.03 L90.95,50.10 L91.20,49.47 L91.44,49.68 L91.69,50.46 L91.93,50.48 L92.18,51.35 L92.43,51.60 L92.67,51.30 L92.92,50.98 L93.17,51.42 L93.41,51.32 L93.66,51.85 L93.91,52.94 L94.15,52.24 L94.40,52.81 L94.64,52.18 L94.89,53.18 L95.14,53.20 L95.38,53.21 L95.63,54.74 L95.88,54.75 L96.12,54.71 L96.37,53.84 L96.62,54.74 L96.86,53.89 L97.11,53.88 L97.36,53.72 L97.60,53.70 L97.85,54.20 L98.09,54.66 L98.34,54.79 L98.59,54.81 L98.83,54.54 L99.08,55.22 L99.33,55.82 L99.57,56.30 L99.82,55.97 L100.07,56.66 L100.31,57.13 L100.56,56.93 L100.80,56.77 L101.05,56.37 L101.30,57.29 L101.54,56.83 L101.79,56.79 L102.04,56.41 L102.28,57.50 L102.53,57.19 L102.78,56.76 L103.02,56.30 L103.27,55.91 L103.51,56.05 L103.76,56.72 L104.01,56.28 L104.25,56.62 L104.50,57.15 L104.75,56.65 L104.99,57.41 L105.24,57.63 L105.49,57.77 L105.73,58.20 L105.98,57.44 L106.23,57.36 L106.47,56.82 L106.72,56.97 L106.96,57.34 L107.21,57.08 L107.46,57.51 L107.70,57.91 L107.95,57.80 L108.20,57.73 L108.44,57.20 L108.69,57.66 L108.94,57.58 L109.18,57.57 L109.43,58.14 L109.67,58.45 L109.92,58.39 L110.17,58.23 L110.41,58.29 L110.66,58.28 L110.91,58.51 L111.15,58.39 L111.40,58.17 L111.65,58.70 L111.89,59.38 L112.14,59.36 L112.38,59.90 L112.63,59.74 L112.88,60.02 L113.12,59.76 L113.37,59.71 L113.62,59.85 L113.86,60.30 L114.11,60.92 L114.36,60.38 L114.60,60.63 L114.85,60.15 L115.10,61.42 L115.34,61.15 L115.59,60.97 L115.83,62.07 L116.08,62.02 L116.33,61.53 L116.57,61.33 L116.82,62.04 L117.07,61.75 L117.31,61.72 L117.56,61.87 L117.81,61.09 L118.05,61.31 L118.30,61.22 L118.54,61.82 L118.79,61.91 L119.04,62.10 L119.28,61.87 L119.53,62.12 L119.78,62.65 L120.02,62.26 L120.27,62.01 L120.52,62.45 L120.76,62.32 L121.01,62.29 L121.25,62.48 L121.50,63.36 L121.75,63.10 L121.99,62.88 L122.24,62.94 L122.49,63.34 L122.73,63.00 L122.98,63.65 L123.23,64.44 L123.47,64.57 L123.72,64.19 L123.97,64.69 L124.21,65.31 L124.46,64.15 L124.70,64.04 L124.95,64.28 L125.20,64.30 L125.44,64.45 L125.69,65.51 L125.94,64.79 L126.18,64.34 L126.43,64.63 L126.68,65.79 L126.92,64.92 L127.17,64.39 L127.41,65.06 L127.66,65.13 L127.91,64.91 L128.15,65.31 L128.40,64.56" fill="none" stroke="#d5202d" stroke-width="2.3" stroke-linejoin="round"/>
<text x="97.3" y="29.0" font-size="7.7" fill="#1f5a96" stroke="#1f5a96" stroke-width="0.12">Grk5</text>
<text x="114.39" y="26.07" font-size="5.0" fill="#1f5a96" opacity="0.7">−/−</text>
<text x="84.8" y="71.6" font-size="7.7" fill="#c8202f" stroke="#c8202f" stroke-width="0.15">WT</text>
<line x1="197.3" y1="27.8" x2="197.3" y2="104.4" stroke="#2b2b2b" stroke-width="1.15"/>
<line x1="196.8" y1="103.9" x2="272.7" y2="103.9" stroke="#2b2b2b" stroke-width="1.15"/>
<line x1="194.70000000000002" y1="103.9" x2="197.3" y2="103.9" stroke="#2b2b2b" stroke-width="1.15"/>
<text x="190.9" y="106.65" font-size="7.7" fill="#161616" text-anchor="end">0</text>
<line x1="194.70000000000002" y1="78.75" x2="197.3" y2="78.75" stroke="#2b2b2b" stroke-width="1.15"/>
<text x="187.5" y="81.5" font-size="7.7" fill="#161616" text-anchor="end">5.0×10</text>
<text x="187.8" y="78.65" font-size="4.0" fill="#161616">4</text>
<line x1="194.70000000000002" y1="53.60000000000001" x2="197.3" y2="53.60000000000001" stroke="#2b2b2b" stroke-width="1.15"/>
<text x="187.5" y="56.35" font-size="7.7" fill="#161616" text-anchor="end">1.0×10</text>
<text x="187.8" y="53.5" font-size="4.0" fill="#161616">5</text>
<line x1="194.70000000000002" y1="28.450000000000017" x2="197.3" y2="28.450000000000017" stroke="#2b2b2b" stroke-width="1.15"/>
<text x="187.5" y="31.2" font-size="7.7" fill="#161616" text-anchor="end">1.5×10</text>
<text x="187.8" y="28.35" font-size="4.0" fill="#161616">5</text>
<line x1="215.6" y1="103.9" x2="215.6" y2="106.5" stroke="#2b2b2b" stroke-width="1.15"/>
<line x1="253.6" y1="103.9" x2="253.6" y2="106.5" stroke="#2b2b2b" stroke-width="1.15"/>
<text transform="translate(160.2,65.6) rotate(-90)" font-size="8.8" fill="#111" stroke="#111" stroke-width="0.22" text-anchor="middle" textLength="57.4" lengthAdjust="spacingAndGlyphs">CD41(+) AUC (μm²)</text>
<text x="234.2" y="22.0" font-size="7.7" fill="#161616" text-anchor="middle" textLength="37" lengthAdjust="spacingAndGlyphs"><tspan font-style="italic">p</tspan> = 0.0251</text>
<path d="M219.3,27.4V25.2H249.3V27.4" fill="none" stroke="#333" stroke-width="0.9"/>
<circle cx="212.7" cy="62" r="1.45" fill="#c8202f"/>
<circle cx="219.2" cy="62.5" r="1.45" fill="#c8202f"/>
<circle cx="216" cy="63.8" r="1.45" fill="#c8202f"/>
<circle cx="212.4" cy="49.3" r="1.45" fill="#c8202f"/>
<circle cx="215.9" cy="50.5" r="1.45" fill="#c8202f"/>
<circle cx="219.4" cy="49.2" r="1.45" fill="#c8202f"/>
<circle cx="215.9" cy="55" r="1.45" fill="#c8202f"/>
<circle cx="209.1" cy="58.5" r="1.45" fill="#c8202f"/>
<circle cx="212.7" cy="59.3" r="1.45" fill="#c8202f"/>
<circle cx="215.9" cy="59.3" r="1.45" fill="#c8202f"/>
<circle cx="219.4" cy="58.6" r="1.45" fill="#c8202f"/>
<circle cx="212.7" cy="61.6" r="1.45" fill="#c8202f"/>
<circle cx="219.4" cy="62.3" r="1.45" fill="#c8202f"/>
<circle cx="215.9" cy="63.9" r="1.45" fill="#c8202f"/>
<circle cx="209.1" cy="68.9" r="1.45" fill="#c8202f"/>
<circle cx="216" cy="68.9" r="1.45" fill="#c8202f"/>
<circle cx="222.8" cy="69.1" r="1.45" fill="#c8202f"/>
<circle cx="212.7" cy="70.9" r="1.45" fill="#c8202f"/>
<circle cx="215" cy="71" r="1.45" fill="#c8202f"/>
<circle cx="217.5" cy="71" r="1.45" fill="#c8202f"/>
<circle cx="219.8" cy="71" r="1.45" fill="#c8202f"/>
<circle cx="209.6" cy="71.3" r="1.45" fill="#c8202f"/>
<circle cx="209.1" cy="73.4" r="1.45" fill="#c8202f"/>
<circle cx="212.7" cy="73.6" r="1.45" fill="#c8202f"/>
<circle cx="216" cy="73" r="1.45" fill="#c8202f"/>
<circle cx="219.8" cy="73.4" r="1.45" fill="#c8202f"/>
<circle cx="216" cy="77" r="1.45" fill="#c8202f"/>
<circle cx="217.7" cy="78.2" r="1.45" fill="#c8202f"/>
<circle cx="205.6" cy="79.8" r="1.45" fill="#c8202f"/>
<circle cx="209.1" cy="81.3" r="1.45" fill="#c8202f"/>
<circle cx="212.7" cy="81.3" r="1.45" fill="#c8202f"/>
<circle cx="216.2" cy="81.3" r="1.45" fill="#c8202f"/>
<circle cx="219.4" cy="81.3" r="1.45" fill="#c8202f"/>
<circle cx="222.8" cy="81.3" r="1.45" fill="#c8202f"/>
<circle cx="226.3" cy="81.3" r="1.45" fill="#c8202f"/>
<circle cx="219.4" cy="83.3" r="1.45" fill="#c8202f"/>
<circle cx="212.7" cy="85.5" r="1.45" fill="#c8202f"/>
<circle cx="216.2" cy="86.1" r="1.45" fill="#c8202f"/>
<circle cx="222.8" cy="87.2" r="1.45" fill="#c8202f"/>
<circle cx="212.7" cy="87.6" r="1.45" fill="#c8202f"/>
<circle cx="219.4" cy="89.2" r="1.45" fill="#c8202f"/>
<line x1="203" y1="72.1" x2="228.9" y2="72.1" stroke="#b51a2a" stroke-width="1.25"/>
<path d="M253.80,37.32L255.45,40.29L252.15,40.29Z" fill="#135389"/>
<path d="M247.20,41.32L248.85,44.29L245.55,44.29Z" fill="#135389"/>
<path d="M250.60,43.02L252.25,45.99L248.95,45.99Z" fill="#135389"/>
<path d="M253.80,43.02L255.45,45.99L252.15,45.99Z" fill="#135389"/>
<path d="M257.20,41.82L258.85,44.79L255.55,44.79Z" fill="#135389"/>
<path d="M253.80,47.02L255.45,49.99L252.15,49.99Z" fill="#135389"/>
<path d="M257.20,47.02L258.85,49.99L255.55,49.99Z" fill="#135389"/>
<path d="M247.20,50.42L248.85,53.39L245.55,53.39Z" fill="#135389"/>
<path d="M250.60,52.02L252.25,54.99L248.95,54.99Z" fill="#135389"/>
<path d="M250.60,54.22L252.25,57.19L248.95,57.19Z" fill="#135389"/>
<path d="M257.20,51.42L258.85,54.39L255.55,54.39Z" fill="#135389"/>
<path d="M253.80,53.32L255.45,56.29L252.15,56.29Z" fill="#135389"/>
<path d="M253.80,57.12L255.45,60.09L252.15,60.09Z" fill="#135389"/>
<path d="M257.20,57.12L258.85,60.09L255.55,60.09Z" fill="#135389"/>
<path d="M250.60,61.22L252.25,64.19L248.95,64.19Z" fill="#135389"/>
<path d="M253.80,60.22L255.45,63.19L252.15,63.19Z" fill="#135389"/>
<path d="M257.20,62.22L258.85,65.19L255.55,65.19Z" fill="#135389"/>
<path d="M247.20,65.22L248.85,68.19L245.55,68.19Z" fill="#135389"/>
<path d="M253.80,65.22L255.45,68.19L252.15,68.19Z" fill="#135389"/>
<path d="M250.60,66.22L252.25,69.19L248.95,69.19Z" fill="#135389"/>
<path d="M257.20,66.22L258.85,69.19L255.55,69.19Z" fill="#135389"/>
<path d="M253.80,69.92L255.45,72.89L252.15,72.89Z" fill="#135389"/>
<path d="M253.80,73.32L255.45,76.29L252.15,76.29Z" fill="#135389"/>
<path d="M257.20,72.42L258.85,75.39L255.55,75.39Z" fill="#135389"/>
<path d="M250.60,76.22L252.25,79.19L248.95,79.19Z" fill="#135389"/>
<path d="M253.80,77.22L255.45,80.19L252.15,80.19Z" fill="#135389"/>
<path d="M250.60,79.02L252.25,81.99L248.95,81.99Z" fill="#135389"/>
<path d="M250.60,82.82L252.25,85.79L248.95,85.79Z" fill="#135389"/>
<path d="M253.80,81.92L255.45,84.89L252.15,84.89Z" fill="#135389"/>
<path d="M257.20,80.92L258.85,83.89L255.55,83.89Z" fill="#135389"/>
<path d="M253.80,85.62L255.45,88.59L252.15,88.59Z" fill="#135389"/>
<path d="M257.20,88.52L258.85,91.49L255.55,91.49Z" fill="#135389"/>
<path d="M253.80,90.22L255.45,93.19L252.15,93.19Z" fill="#135389"/>
<line x1="241" y1="64.4" x2="266.4" y2="64.4" stroke="#0f4a7e" stroke-width="1.25"/>
<line x1="253.8" y1="61.2" x2="253.8" y2="67.5" stroke="#135389" stroke-width="0.8"/>
<line x1="247.4" y1="61.2" x2="260.7" y2="61.2" stroke="#135389" stroke-width="0.8"/>
<line x1="247.4" y1="67.5" x2="260.7" y2="67.5" stroke="#135389" stroke-width="0.8"/>
<text x="215.6" y="116.6" font-size="7.7" fill="#c8202f" text-anchor="middle" stroke="#c8202f" stroke-width="0.12">WT</text>
<text x="241.9" y="116.6" font-size="7.7" fill="#135389" stroke="#135389" stroke-width="0.12">Grk5</text>
<text x="258.99" y="113.67" font-size="5.0" fill="#135389" opacity="0.7">−/−</text>
<line x1="323.2" y1="26.3" x2="323.2" y2="103.6" stroke="#2b2b2b" stroke-width="1.15"/>
<line x1="322.7" y1="103.1" x2="400.2" y2="103.1" stroke="#2b2b2b" stroke-width="1.15"/>
<line x1="320.59999999999997" y1="103.1" x2="323.2" y2="103.1" stroke="#2b2b2b" stroke-width="1.15"/>
<text x="317.4" y="105.85" font-size="7.7" fill="#161616" text-anchor="end">0</text>
<line x1="320.59999999999997" y1="77.6" x2="323.2" y2="77.6" stroke="#2b2b2b" stroke-width="1.15"/>
<text x="317.4" y="80.35" font-size="7.7" fill="#161616" text-anchor="end">500</text>
<line x1="320.59999999999997" y1="52.099999999999994" x2="323.2" y2="52.099999999999994" stroke="#2b2b2b" stroke-width="1.15"/>
<text x="317.4" y="54.85" font-size="7.7" fill="#161616" text-anchor="end">1000</text>
<line x1="320.59999999999997" y1="26.599999999999994" x2="323.2" y2="26.599999999999994" stroke="#2b2b2b" stroke-width="1.15"/>
<text x="317.4" y="29.35" font-size="7.7" fill="#161616" text-anchor="end">1500</text>
<line x1="342.4" y1="103.1" x2="342.4" y2="105.69999999999999" stroke="#2b2b2b" stroke-width="1.15"/>
<line x1="381.4" y1="103.1" x2="381.4" y2="105.69999999999999" stroke="#2b2b2b" stroke-width="1.15"/>
<text transform="translate(295.3,65.2) rotate(-90)" font-size="8.8" fill="#111" stroke="#111" stroke-width="0.22" text-anchor="middle" textLength="58.2" lengthAdjust="spacingAndGlyphs">CD41(+) peak (μm²)</text>
<text x="362.8" y="21.9" font-size="7.7" fill="#161616" text-anchor="middle">NS</text>
<path d="M347.2,27.6V25.5H378.3V27.6" fill="none" stroke="#333" stroke-width="0.9"/>
<circle cx="342.8" cy="37.9" r="1.45" fill="#c8202f"/>
<circle cx="342.8" cy="45.6" r="1.45" fill="#c8202f"/>
<circle cx="346.2" cy="44.3" r="1.45" fill="#c8202f"/>
<circle cx="339.3" cy="48.4" r="1.45" fill="#c8202f"/>
<circle cx="342.8" cy="50.7" r="1.45" fill="#c8202f"/>
<circle cx="339.3" cy="53.7" r="1.45" fill="#c8202f"/>
<circle cx="346.2" cy="54.3" r="1.45" fill="#c8202f"/>
<circle cx="335.8" cy="58.2" r="1.45" fill="#c8202f"/>
<circle cx="342.8" cy="57" r="1.45" fill="#c8202f"/>
<circle cx="339.3" cy="60.2" r="1.45" fill="#c8202f"/>
<circle cx="346.2" cy="59.2" r="1.45" fill="#c8202f"/>
<circle cx="342.8" cy="61.4" r="1.45" fill="#c8202f"/>
<circle cx="339.3" cy="64.5" r="1.45" fill="#c8202f"/>
<circle cx="342.8" cy="64.8" r="1.45" fill="#c8202f"/>
<circle cx="346.2" cy="65.5" r="1.45" fill="#c8202f"/>
<circle cx="335.8" cy="68.6" r="1.45" fill="#c8202f"/>
<circle cx="339.3" cy="68.6" r="1.45" fill="#c8202f"/>
<circle cx="342.8" cy="68.6" r="1.45" fill="#c8202f"/>
<circle cx="346.2" cy="68.6" r="1.45" fill="#c8202f"/>
<circle cx="349.7" cy="68.6" r="1.45" fill="#c8202f"/>
<circle cx="339.3" cy="70" r="1.45" fill="#c8202f"/>
<circle cx="335.8" cy="72" r="1.45" fill="#c8202f"/>
<circle cx="342.8" cy="72" r="1.45" fill="#c8202f"/>
<circle cx="349.7" cy="72.7" r="1.45" fill="#c8202f"/>
<circle cx="339.3" cy="73.3" r="1.45" fill="#c8202f"/>
<circle cx="346.2" cy="73.3" r="1.45" fill="#c8202f"/>
<circle cx="335.8" cy="75" r="1.45" fill="#c8202f"/>
<circle cx="342.8" cy="75" r="1.45" fill="#c8202f"/>
<circle cx="346.2" cy="75.9" r="1.45" fill="#c8202f"/>
<circle cx="339.3" cy="76.5" r="1.45" fill="#c8202f"/>
<circle cx="332.5" cy="78.4" r="1.45" fill="#c8202f"/>
<circle cx="342.8" cy="78.4" r="1.45" fill="#c8202f"/>
<circle cx="353.2" cy="78.5" r="1.45" fill="#c8202f"/>
<circle cx="335.8" cy="80.3" r="1.45" fill="#c8202f"/>
<circle cx="339.3" cy="81.2" r="1.45" fill="#c8202f"/>
<circle cx="342.8" cy="82.2" r="1.45" fill="#c8202f"/>
<circle cx="346.2" cy="81.5" r="1.45" fill="#c8202f"/>
<circle cx="349.7" cy="80.3" r="1.45" fill="#c8202f"/>
<line x1="329.8" y1="66.1" x2="355.8" y2="66.1" stroke="#b51a2a" stroke-width="1.25"/>
<line x1="342.8" y1="64.4" x2="342.8" y2="67.7" stroke="#c8202f" stroke-width="0.8"/>
<line x1="335.8" y1="64.4" x2="349.7" y2="64.4" stroke="#c8202f" stroke-width="0.8"/>
<line x1="335.8" y1="67.7" x2="349.7" y2="67.7" stroke="#c8202f" stroke-width="0.8"/>
<path d="M381.40,34.32L383.05,37.29L379.75,37.29Z" fill="#135389"/>
<path d="M374.10,39.02L375.75,41.99L372.45,41.99Z" fill="#135389"/>
<path d="M378.00,40.92L379.65,43.89L376.35,43.89Z" fill="#135389"/>
<path d="M381.40,40.92L383.05,43.89L379.75,43.89Z" fill="#135389"/>
<path d="M384.90,40.22L386.55,43.19L383.25,43.19Z" fill="#135389"/>
<path d="M384.90,42.02L386.55,44.99L383.25,44.99Z" fill="#135389"/>
<path d="M381.40,44.72L383.05,47.69L379.75,47.69Z" fill="#135389"/>
<path d="M374.10,48.52L375.75,51.49L372.45,51.49Z" fill="#135389"/>
<path d="M378.00,49.12L379.65,52.09L376.35,52.09Z" fill="#135389"/>
<path d="M381.40,49.82L383.05,52.79L379.75,52.79Z" fill="#135389"/>
<path d="M384.90,48.52L386.55,51.49L383.25,51.49Z" fill="#135389"/>
<path d="M388.30,48.22L389.95,51.19L386.65,51.19Z" fill="#135389"/>
<path d="M378.00,53.62L379.65,56.59L376.35,56.59Z" fill="#135389"/>
<path d="M374.10,56.72L375.75,59.69L372.45,59.69Z" fill="#135389"/>
<path d="M378.00,56.22L379.65,59.19L376.35,59.19Z" fill="#135389"/>
<path d="M381.40,56.72L383.05,59.69L379.75,59.69Z" fill="#135389"/>
<path d="M384.90,54.72L386.55,57.69L383.25,57.69Z" fill="#135389"/>
<path d="M384.90,56.72L386.55,59.69L383.25,59.69Z" fill="#135389"/>
<path d="M378.00,60.52L379.65,63.49L376.35,63.49Z" fill="#135389"/>
<path d="M381.40,60.52L383.05,63.49L379.75,63.49Z" fill="#135389"/>
<path d="M378.00,63.92L379.65,66.89L376.35,66.89Z" fill="#135389"/>
<path d="M384.90,63.92L386.55,66.89L383.25,66.89Z" fill="#135389"/>
<path d="M381.40,66.22L383.05,69.19L379.75,69.19Z" fill="#135389"/>
<path d="M374.10,67.32L375.75,70.29L372.45,70.29Z" fill="#135389"/>
<path d="M378.00,68.62L379.65,71.59L376.35,71.59Z" fill="#135389"/>
<path d="M384.90,68.62L386.55,71.59L383.25,71.59Z" fill="#135389"/>
<path d="M381.40,70.22L383.05,73.19L379.75,73.19Z" fill="#135389"/>
<path d="M381.40,73.72L383.05,76.69L379.75,76.69Z" fill="#135389"/>
<path d="M374.10,78.22L375.75,81.19L372.45,81.19Z" fill="#135389"/>
<path d="M378.00,79.82L379.65,82.79L376.35,82.79Z" fill="#135389"/>
<path d="M381.40,79.52L383.05,82.49L379.75,82.49Z" fill="#135389"/>
<path d="M384.90,80.02L386.55,82.99L383.25,82.99Z" fill="#135389"/>
<path d="M384.90,81.72L386.55,84.69L383.25,84.69Z" fill="#135389"/>
<path d="M388.30,77.92L389.95,80.89L386.65,80.89Z" fill="#135389"/>
<path d="M381.40,84.62L383.05,87.59L379.75,87.59Z" fill="#135389"/>
<line x1="367.8" y1="61.2" x2="394.2" y2="61.2" stroke="#0f4a7e" stroke-width="1.25"/>
<line x1="381.4" y1="58.9" x2="381.4" y2="63.8" stroke="#135389" stroke-width="0.8"/>
<line x1="374.8" y1="58.9" x2="387.5" y2="58.9" stroke="#135389" stroke-width="0.8"/>
<line x1="374.8" y1="63.8" x2="387.5" y2="63.8" stroke="#135389" stroke-width="0.8"/>
<text x="342.6" y="116.4" font-size="7.7" fill="#c8202f" text-anchor="middle" stroke="#c8202f" stroke-width="0.12">WT</text>
<text x="369.7" y="116.4" font-size="7.7" fill="#135389" stroke="#135389" stroke-width="0.12">Grk5</text>
<text x="386.79" y="113.47" font-size="5.0" fill="#135389" opacity="0.7">−/−</text>
<line x1="39.3" y1="178.3" x2="39.3" y2="253.7" stroke="#2b2b2b" stroke-width="1.15"/>
<line x1="38.8" y1="253.2" x2="110.4" y2="253.2" stroke="#2b2b2b" stroke-width="1.15"/>
<line x1="36.699999999999996" y1="253.2" x2="39.3" y2="253.2" stroke="#2b2b2b" stroke-width="1.15"/>
<text x="33.9" y="255.95" font-size="7.7" fill="#161616" text-anchor="end">0</text>
<line x1="36.699999999999996" y1="238.29999999999998" x2="39.3" y2="238.29999999999998" stroke="#2b2b2b" stroke-width="1.15"/>
<text x="33.9" y="241.05" font-size="7.7" fill="#161616" text-anchor="end">100</text>
<line x1="36.699999999999996" y1="223.39999999999998" x2="39.3" y2="223.39999999999998" stroke="#2b2b2b" stroke-width="1.15"/>
<text x="33.9" y="226.15" font-size="7.7" fill="#161616" text-anchor="end">200</text>
<line x1="36.699999999999996" y1="208.5" x2="39.3" y2="208.5" stroke="#2b2b2b" stroke-width="1.15"/>
<text x="33.9" y="211.25" font-size="7.7" fill="#161616" text-anchor="end">300</text>
<line x1="36.699999999999996" y1="193.6" x2="39.3" y2="193.6" stroke="#2b2b2b" stroke-width="1.15"/>
<text x="33.9" y="196.35" font-size="7.7" fill="#161616" text-anchor="end">400</text>
<line x1="36.699999999999996" y1="178.7" x2="39.3" y2="178.7" stroke="#2b2b2b" stroke-width="1.15"/>
<text x="33.9" y="181.45" font-size="7.7" fill="#161616" text-anchor="end">500</text>
<text transform="translate(16.2,217.5) rotate(-90)" font-size="8.8" fill="#111" stroke="#111" stroke-width="0.22" text-anchor="middle" textLength="58.5" lengthAdjust="spacingAndGlyphs">CD41(+) area (μm²)</text>
<text x="75.0" y="151.3" font-size="8" fill="#161616" text-anchor="middle" textLength="14.8" lengthAdjust="spacingAndGlyphs" stroke="#111" stroke-width="0.22">CD41</text>
<text x="75.2" y="162.3" font-size="8" fill="#161616" text-anchor="middle" textLength="65.2" lengthAdjust="spacingAndGlyphs" stroke="#111" stroke-width="0.22">(at 180 sec post injury)</text>
<text x="73.4" y="174.8" font-size="7.7" fill="#161616" text-anchor="middle" textLength="37.7" lengthAdjust="spacingAndGlyphs"><tspan font-style="italic">p</tspan> = 0.0164</text>
<path d="M58.3,180.6V178.6H86.8V180.6" fill="none" stroke="#333" stroke-width="0.9"/>
<rect x="54.6" y="212.2" width="20.5" height="41" fill="#c8202f"/>
<rect x="75.1" y="193.6" width="20.6" height="59.6" fill="#135389"/>
<line x1="64.8" y1="207.7" x2="64.8" y2="212.2" stroke="#c8202f" stroke-width="0.9"/>
<line x1="63.2" y1="207.7" x2="66.4" y2="207.7" stroke="#c8202f" stroke-width="0.9"/>
<line x1="85.4" y1="187.2" x2="85.4" y2="193.6" stroke="#135389" stroke-width="0.9"/>
<line x1="83.8" y1="187.2" x2="87.0" y2="187.2" stroke="#135389" stroke-width="0.9"/>
<text x="64.6" y="262.6" font-size="7.7" fill="#c8202f" text-anchor="middle" stroke="#c8202f" stroke-width="0.12">WT</text>
<text x="75.1" y="262.6" font-size="7.7" fill="#135389" stroke="#135389" stroke-width="0.12">Grk5</text>
<text x="92.19" y="259.67" font-size="5.0" fill="#135389" opacity="0.7">−/−</text>
<line x1="160.6" y1="167.3" x2="160.6" y2="253.8" stroke="#2b2b2b" stroke-width="1.15"/>
<line x1="160.1" y1="253.3" x2="245.7" y2="253.3" stroke="#2b2b2b" stroke-width="1.15"/>
<line x1="158.0" y1="253.3" x2="160.6" y2="253.3" stroke="#2b2b2b" stroke-width="1.15"/>
<text x="154.5" y="256.05" font-size="7.7" fill="#161616" text-anchor="end">0</text>
<line x1="158.0" y1="239.0" x2="160.6" y2="239.0" stroke="#2b2b2b" stroke-width="1.15"/>
<text x="154.5" y="241.75" font-size="7.7" fill="#161616" text-anchor="end">200</text>
<line x1="158.0" y1="224.70000000000002" x2="160.6" y2="224.70000000000002" stroke="#2b2b2b" stroke-width="1.15"/>
<text x="154.5" y="227.45" font-size="7.7" fill="#161616" text-anchor="end">400</text>
<line x1="158.0" y1="210.4" x2="160.6" y2="210.4" stroke="#2b2b2b" stroke-width="1.15"/>
<text x="154.5" y="213.15" font-size="7.7" fill="#161616" text-anchor="end">600</text>
<line x1="158.0" y1="196.10000000000002" x2="160.6" y2="196.10000000000002" stroke="#2b2b2b" stroke-width="1.15"/>
<text x="154.5" y="198.85" font-size="7.7" fill="#161616" text-anchor="end">800</text>
<line x1="158.0" y1="181.8" x2="160.6" y2="181.8" stroke="#2b2b2b" stroke-width="1.15"/>
<text x="154.5" y="184.55" font-size="7.7" fill="#161616" text-anchor="end">1000</text>
<line x1="158.0" y1="167.5" x2="160.6" y2="167.5" stroke="#2b2b2b" stroke-width="1.15"/>
<text x="154.5" y="170.25" font-size="7.7" fill="#161616" text-anchor="end">1200</text>
<line x1="182.1" y1="253.3" x2="182.1" y2="255.9" stroke="#2b2b2b" stroke-width="1.15"/>
<line x1="224.3" y1="253.3" x2="224.3" y2="255.9" stroke="#2b2b2b" stroke-width="1.15"/>
<text transform="translate(132.8,211.2) rotate(-90)" font-size="8.8" fill="#111" stroke="#111" stroke-width="0.22" text-anchor="middle" textLength="57.4" lengthAdjust="spacingAndGlyphs">CD41(+) area (μm²)</text>
<text x="203.2" y="147.7" font-size="8" fill="#161616" text-anchor="middle" textLength="14.8" lengthAdjust="spacingAndGlyphs" stroke="#111" stroke-width="0.22">CD41</text>
<text x="203.5" y="159.2" font-size="8" fill="#161616" text-anchor="middle" textLength="66" lengthAdjust="spacingAndGlyphs" stroke="#111" stroke-width="0.22">(at 180 sec post injury)</text>
<text x="203.3" y="174.1" font-size="7.7" fill="#161616" text-anchor="middle" textLength="38.5" lengthAdjust="spacingAndGlyphs"><tspan font-style="italic">p</tspan> = 0.0164</text>
<path d="M186.5,180.2V178H219.7V180.2" fill="none" stroke="#333" stroke-width="0.9"/>
<circle cx="181.9" cy="206.3" r="1.5" fill="#c8202f"/>
<circle cx="174.1" cy="218.8" r="1.5" fill="#c8202f"/>
<circle cx="179.3" cy="217.1" r="1.5" fill="#c8202f"/>
<circle cx="179.3" cy="220.3" r="1.5" fill="#c8202f"/>
<circle cx="184.7" cy="220.9" r="1.5" fill="#c8202f"/>
<circle cx="184.7" cy="224.1" r="1.5" fill="#c8202f"/>
<circle cx="189.7" cy="225.4" r="1.5" fill="#c8202f"/>
<circle cx="189.7" cy="228.2" r="1.5" fill="#c8202f"/>
<circle cx="174.1" cy="226.2" r="1.5" fill="#c8202f"/>
<circle cx="179.3" cy="227" r="1.5" fill="#c8202f"/>
<circle cx="174.1" cy="230.4" r="1.5" fill="#c8202f"/>
<circle cx="174.1" cy="231.8" r="1.5" fill="#c8202f"/>
<circle cx="179.3" cy="231.1" r="1.5" fill="#c8202f"/>
<circle cx="184.7" cy="231.1" r="1.5" fill="#c8202f"/>
<circle cx="169.4" cy="233.2" r="1.5" fill="#c8202f"/>
<circle cx="194.2" cy="233.2" r="1.5" fill="#c8202f"/>
<circle cx="179.3" cy="233.6" r="1.5" fill="#c8202f"/>
<circle cx="184.7" cy="233.6" r="1.5" fill="#c8202f"/>
<circle cx="174.1" cy="238.7" r="1.5" fill="#c8202f"/>
<circle cx="179.3" cy="238.3" r="1.5" fill="#c8202f"/>
<circle cx="189.7" cy="237.7" r="1.5" fill="#c8202f"/>
<circle cx="179.3" cy="241.7" r="1.5" fill="#c8202f"/>
<circle cx="184.7" cy="242.1" r="1.5" fill="#c8202f"/>
<circle cx="189.7" cy="242.1" r="1.5" fill="#c8202f"/>
<circle cx="184.7" cy="244.3" r="1.5" fill="#c8202f"/>
<circle cx="169.4" cy="245.3" r="1.5" fill="#c8202f"/>
<circle cx="194.2" cy="244.7" r="1.5" fill="#c8202f"/>
<circle cx="179.3" cy="246.8" r="1.5" fill="#c8202f"/>
<circle cx="189.7" cy="246.8" r="1.5" fill="#c8202f"/>
<circle cx="174.1" cy="248.8" r="1.5" fill="#c8202f"/>
<circle cx="184.7" cy="248.5" r="1.5" fill="#c8202f"/>
<rect x="175" y="231.1" width="13" height="4" fill="#9a9a9a" opacity="0.55"/>
<line x1="175" y1="231.1" x2="188" y2="231.1" stroke="#888" stroke-width="0.8"/>
<line x1="175" y1="235.1" x2="188" y2="235.1" stroke="#888" stroke-width="0.8"/>
<line x1="169.4" y1="233.2" x2="194.2" y2="233.2" stroke="#333" stroke-width="0.9"/>
<path d="M224.40,182.96L226.10,186.02L222.70,186.02Z" fill="#135389"/>
<path d="M219.00,197.46L220.70,200.52L217.30,200.52Z" fill="#135389"/>
<path d="M224.40,195.66L226.10,198.72L222.70,198.72Z" fill="#135389"/>
<path d="M224.40,198.46L226.10,201.52L222.70,201.52Z" fill="#135389"/>
<path d="M224.40,202.26L226.10,205.32L222.70,205.32Z" fill="#135389"/>
<path d="M224.40,206.36L226.10,209.42L222.70,209.42Z" fill="#135389"/>
<path d="M229.40,209.26L231.10,212.32L227.70,212.32Z" fill="#135389"/>
<path d="M224.40,211.76L226.10,214.82L222.70,214.82Z" fill="#135389"/>
<path d="M221.60,216.06L223.30,219.12L219.90,219.12Z" fill="#135389"/>
<path d="M227.00,215.16L228.70,218.22L225.30,218.22Z" fill="#135389"/>
<path d="M214.40,220.86L216.10,223.92L212.70,223.92Z" fill="#135389"/>
<path d="M219.00,220.86L220.70,223.92L217.30,223.92Z" fill="#135389"/>
<path d="M224.40,220.16L226.10,223.22L222.70,223.22Z" fill="#135389"/>
<path d="M229.40,220.86L231.10,223.92L227.70,223.92Z" fill="#135389"/>
<path d="M234.30,219.86L236.00,222.92L232.60,222.92Z" fill="#135389"/>
<path d="M224.40,223.16L226.10,226.22L222.70,226.22Z" fill="#135389"/>
<path d="M214.40,228.46L216.10,231.52L212.70,231.52Z" fill="#135389"/>
<path d="M219.00,228.66L220.70,231.72L217.30,231.72Z" fill="#135389"/>
<path d="M224.40,227.16L226.10,230.22L222.70,230.22Z" fill="#135389"/>
<path d="M234.30,226.56L236.00,229.62L232.60,229.62Z" fill="#135389"/>
<path d="M224.40,231.36L226.10,234.42L222.70,234.42Z" fill="#135389"/>
<path d="M229.40,230.56L231.10,233.62L227.70,233.62Z" fill="#135389"/>
<path d="M224.40,234.76L226.10,237.82L222.70,237.82Z" fill="#135389"/>
<path d="M229.40,235.16L231.10,238.22L227.70,238.22Z" fill="#135389"/>
<path d="M219.00,238.36L220.70,241.42L217.30,241.42Z" fill="#135389"/>
<path d="M224.40,237.66L226.10,240.72L222.70,240.72Z" fill="#135389"/>
<path d="M229.40,239.56L231.10,242.62L227.70,242.62Z" fill="#135389"/>
<path d="M218.80,242.56L220.50,245.62L217.10,245.62Z" fill="#135389"/>
<path d="M218.80,248.86L220.50,251.92L217.10,251.92Z" fill="#135389"/>
<path d="M224.30,245.46L226.00,248.52L222.60,248.52Z" fill="#135389"/>
<path d="M229.70,244.06L231.40,247.12L228.00,247.12Z" fill="#135389"/>
<path d="M229.70,247.36L231.40,250.42L228.00,250.42Z" fill="#135389"/>
<line x1="217.1" y1="221.7" x2="231.1" y2="221.7" stroke="#6f95c0" stroke-width="0.9"/>
<line x1="217.1" y1="227.8" x2="231.1" y2="227.8" stroke="#6f95c0" stroke-width="0.9"/>
<line x1="210.2" y1="225" x2="237.8" y2="225" stroke="#333" stroke-width="0.9"/>
<text x="182.4" y="265.7" font-size="7.7" fill="#c8202f" text-anchor="middle" stroke="#c8202f" stroke-width="0.12">WT</text>
<text x="212.8" y="265.9" font-size="7.7" fill="#135389" stroke="#135389" stroke-width="0.12">Grk5</text>
<text x="229.89" y="262.97" font-size="5.0" fill="#135389" opacity="0.7">−/−</text>
<g id="F"><defs>
<filter id="fb" x="-10%" y="-10%" width="120%" height="120%"><feGaussianBlur stdDeviation="0.9"/></filter>
<filter id="fb2" x="-10%" y="-10%" width="120%" height="120%"><feTurbulence type="fractalNoise" baseFrequency="0.35" numOctaves="2" seed="9" result="dn"/><feDisplacementMap in="SourceGraphic" in2="dn" scale="5" xChannelSelector="R" yChannelSelector="G" result="d"/><feGaussianBlur in="d" stdDeviation="0.7"/></filter>
<filter id="nz" x="0" y="0" width="100%" height="100%">
<feTurbulence type="fractalNoise" baseFrequency="0.42" numOctaves="2" seed="4" result="t"/>
<feColorMatrix in="t" type="matrix" values="0 0 0 0 0  0 0 0 0 0  0 0 0 0 0  0 0 0 1.6 -0.5" result="a"/>
<feGaussianBlur in="a" stdDeviation="0.7" result="a2"/>
<feComposite in="a2" in2="SourceGraphic" operator="in"/>
</filter>
<clipPath id="c1"><rect x="254.4" y="157.2" width="77.8" height="78.2"/></clipPath>
<clipPath id="c2"><rect x="339.7" y="157.2" width="77.9" height="77.9"/></clipPath>
</defs>
<rect x="254.4" y="157.2" width="77.8" height="78.2" fill="#050a0a"/>
<rect x="339.7" y="157.2" width="77.9" height="77.9" fill="#050a0a"/>
<g clip-path="url(#c1)">
 <g filter="url(#fb2)">
  <path d="M279,161 L285,159 L293,160 L300,162 L306,164 L312,167 L318,171 L322,175 L324,182 L325,190 L326,198 L326,206 L324,213 L322,220 L318,226 L312,229 L306,229 L304,222 L304,210 L303,198 L301.5,188 L299.5,187 L298,194 L296.5,203 L294,208 L290,210 L286,210 L280,206 L272,204 L266,200 L262,194 L261,186 L263,180 L268,177.5 L275,176 L279.5,172 L279.5,165 Z" fill="#1f8a4a"/>
  <path d="M289.5,160 L291.5,160 L292,172 L291.8,186 L290.2,186 L289.6,172 Z" fill="#050a0a" opacity="0.9"/>
  <path d="M262,186 L266,182 L268,190 L265,196 L262,194 Z" fill="#050a0a" opacity="0.5"/>
  <path d="M292,168 L299,170 L302,180 L300,188 L295,190 L292,180 Z" fill="#050a0a" opacity="0.35"/>
  <path d="M270,180 L282,179 L286,186 L283,190 L274,188 Z" fill="#050a0a" opacity="0.25"/>
 </g>
 <rect x="254.4" y="157.2" width="77.8" height="78.2" fill="#000" filter="url(#nz)" opacity="0.9"/>
 <g filter="url(#fb)">
  <path d="M268,195 L272,191 L277,190 L281,193 L280,198 L276,201 L272,203 L268,200 Z" fill="#f0221e"/>
  <path d="M310.5,168 L314,169.5 L318.5,172.5 L319,175.5 L321.5,177.5 L321.5,182 L318.5,184.5 L314.5,184 L313.5,180.5 L315,177 L312,173 Z" fill="#f0221e"/>
  <path d="M310.4,186 L313.5,186 L313.3,189.5 L310.2,189 Z" fill="#e8221e"/>
  <path d="M303,226 L306,222 L312,218 L318,214 L322.5,212.5 L322.5,217 L318,222 L312,226 L307,229 L304,229 Z" fill="#f0221e"/>
  <circle cx="319" cy="203" r="0.9" fill="#e8221e"/><circle cx="281" cy="199" r="0.8" fill="#e8221e"/><circle cx="316" cy="193" r="0.8" fill="#e8221e"/>
 </g>
</g>
<g clip-path="url(#c2)">
 <g filter="url(#fb2)">
  <path d="M366,168 L372,171.5 L378,172.5 L385,168.5 L392.5,169 L399.7,173.5 L405.5,178 L411.3,186.5 L413.3,196.5 L412.5,201 L410,205.5 L405,209 L399.7,211 L392.5,212 L385.2,210.5 L378,217.7 L370,221 L362,221.5 L356,218 L350,212 L347,204 L346.5,195 L347.5,184 L351,176 L357,170 Z" fill="#1f8a4a"/>
  <path d="M363,190 L368,186 L376,185 L384,190 L389,198 L387,207 L381,214 L374,220 L366,221 L364,210 Z" fill="#050a0a" opacity="0.65"/>
  <path d="M374,170 L380,176 L384,186 L378,184 L372,178 Z" fill="#050a0a" opacity="0.3"/>
 </g>
 <rect x="339.7" y="157.2" width="77.9" height="77.9" fill="#000" filter="url(#nz)" opacity="0.88"/>
 <g filter="url(#fb)">
  <path d="M365,168.8 L357.8,170.3 L352.5,175.5 L349,183 L347.8,197 L349.7,204.7 L353.3,212 L360.5,219 L363.5,217.5 L362.5,206 L361,199 L360.5,192 L362,187 L366,185 L371,184.5 L372.5,181 L371.8,175 L369,171 Z" fill="#f0221e"/>
  <path d="M362,188 L366,186 L369,189 L365,194 L363,199 L361.5,194 Z" fill="#f0221e" opacity="0.6"/>
  <path d="M386.7,197 L390,195.5 L394,196.5 L396.8,199 L395,204 L391,208 L388,205.5 Z" fill="#f0221e"/>
  <path d="M383,201 L385,200 L385.5,207 L383.2,207.6 Z" fill="#e8221e"/>
  <circle cx="396" cy="195.4" r="1.3" fill="#e8221e"/>
 </g>
 <g fill="none" stroke="#061008" stroke-width="1.1" opacity="0.85" filter="url(#fb)">
  <path d="M364,200 Q368,187 377,184 Q385,183 390,189"/>
  <path d="M367,214 Q372,202 381,200"/>
 </g>
</g>
</g>
<text x="262.9" y="247.9" font-size="9.0" fill="#c8202f" textLength="60.4" lengthAdjust="spacingAndGlyphs">WT+ Thrombin</text>
<text x="340.5" y="247.9" font-size="9.0" fill="#135389" textLength="19.1" lengthAdjust="spacingAndGlyphs">Grk5</text>
<text x="360.2" y="243.9" font-size="4.6" fill="#135389" textLength="5.8" lengthAdjust="spacingAndGlyphs" opacity="0.6">−/−</text>
<text x="368.9" y="247.9" font-size="9.0" fill="#222" textLength="44.6" lengthAdjust="spacingAndGlyphs">+ Thrombin</text>
<line x1="462.3" y1="175.6" x2="462.3" y2="249.6" stroke="#2b2b2b" stroke-width="1.15"/>
<line x1="461.8" y1="249.1" x2="511.8" y2="249.1" stroke="#2b2b2b" stroke-width="1.15"/>
<line x1="459.7" y1="249.1" x2="462.3" y2="249.1" stroke="#2b2b2b" stroke-width="1.15"/>
<text x="456.5" y="251.85" font-size="7.7" fill="#161616" text-anchor="end">0</text>
<line x1="459.7" y1="224.76999999999998" x2="462.3" y2="224.76999999999998" stroke="#2b2b2b" stroke-width="1.15"/>
<text x="456.5" y="227.52" font-size="7.7" fill="#161616" text-anchor="end">1</text>
<line x1="459.7" y1="200.44" x2="462.3" y2="200.44" stroke="#2b2b2b" stroke-width="1.15"/>
<text x="456.5" y="203.19" font-size="7.7" fill="#161616" text-anchor="end">2</text>
<line x1="459.7" y1="176.11" x2="462.3" y2="176.11" stroke="#2b2b2b" stroke-width="1.15"/>
<text x="456.5" y="178.86" font-size="7.7" fill="#161616" text-anchor="end">3</text>
<line x1="476.5" y1="249.1" x2="476.5" y2="251.7" stroke="#2b2b2b" stroke-width="1.15"/>
<line x1="497.2" y1="249.1" x2="497.2" y2="251.7" stroke="#2b2b2b" stroke-width="1.15"/>
<text transform="translate(435.8,212.2) rotate(-90)" font-size="8.6" fill="#111" stroke="#111" stroke-width="0.22" text-anchor="middle" textLength="48.7" lengthAdjust="spacingAndGlyphs">Thrombosis score</text>
<text transform="translate(446.6,212.7) rotate(-90)" font-size="8.6" fill="#111" stroke="#111" stroke-width="0.22" text-anchor="middle" textLength="36.2" lengthAdjust="spacingAndGlyphs">(fold change)</text>
<text x="486.8" y="155.0" font-size="8" fill="#161616" text-anchor="middle" textLength="29.6" lengthAdjust="spacingAndGlyphs" stroke="#111" stroke-width="0.22">Pulmonary</text>
<text x="487.2" y="166.5" font-size="8" fill="#161616" text-anchor="middle" textLength="50.1" lengthAdjust="spacingAndGlyphs" stroke="#111" stroke-width="0.22">thromboembolism</text>
<text x="486.6" y="179.9" font-size="7.7" fill="#161616" text-anchor="middle" textLength="37.2" lengthAdjust="spacingAndGlyphs"><tspan font-style="italic">p</tspan> = 0.0305</text>
<path d="M474.4,185.2V183.3H498.3V185.2" fill="none" stroke="#333" stroke-width="0.9"/>
<rect x="469.9" y="224.4" width="13.1" height="24.8" fill="#c8202f"/>
<rect x="490.9" y="210.9" width="13.3" height="38.3" fill="#135389"/>
<line x1="476.5" y1="222.4" x2="476.5" y2="224.4" stroke="#c8202f" stroke-width="0.9"/>
<line x1="474.9" y1="222.4" x2="478.1" y2="222.4" stroke="#c8202f" stroke-width="0.9"/>
<line x1="497.4" y1="205.4" x2="497.4" y2="210.9" stroke="#135389" stroke-width="0.9"/>
<line x1="494.1" y1="205.4" x2="500.9" y2="205.4" stroke="#135389" stroke-width="0.9"/>
<circle cx="471.8" cy="219.1" r="1.25" fill="#fff" stroke="#666" stroke-width="0.7"/>
<circle cx="476.3" cy="220.3" r="1.25" fill="#fff" stroke="#666" stroke-width="0.7"/>
<circle cx="481.1" cy="220.6" r="1.25" fill="#fff" stroke="#666" stroke-width="0.7"/>
<circle cx="472.1" cy="224.5" r="1.25" fill="#fff" stroke="#666" stroke-width="0.7"/>
<circle cx="476.3" cy="224.7" r="1.25" fill="#fff" stroke="#666" stroke-width="0.7"/>
<circle cx="480.9" cy="225.1" r="1.25" fill="#fff" stroke="#666" stroke-width="0.7"/>
<circle cx="476.3" cy="229.2" r="1.25" fill="#fff" stroke="#666" stroke-width="0.7"/>
<circle cx="476.3" cy="232.7" r="1.25" fill="#fff" stroke="#666" stroke-width="0.7"/>
<circle cx="497.4" cy="190.4" r="1.25" fill="#fff" stroke="#666" stroke-width="0.7"/>
<circle cx="499.8" cy="194.8" r="1.25" fill="#fff" stroke="#666" stroke-width="0.7"/>
<circle cx="495.1" cy="197" r="1.25" fill="#fff" stroke="#666" stroke-width="0.7"/>
<circle cx="497.4" cy="205.4" r="1.25" fill="#fff" stroke="#666" stroke-width="0.7"/>
<circle cx="494.8" cy="220.9" r="1.25" fill="#fff" stroke="#666" stroke-width="0.7"/>
<circle cx="499.8" cy="219.9" r="1.25" fill="#fff" stroke="#666" stroke-width="0.7"/>
<circle cx="499.8" cy="222.5" r="1.25" fill="#fff" stroke="#666" stroke-width="0.7"/>
<circle cx="497.2" cy="234.4" r="1.25" fill="#fff" stroke="#666" stroke-width="0.7"/>
<text x="476.4" y="261.6" font-size="7.7" fill="#c8202f" text-anchor="middle" stroke="#c8202f" stroke-width="0.12">WT</text>
<text x="485.7" y="261.6" font-size="7.7" fill="#135389" stroke="#135389" stroke-width="0.12">Grk5</text>
<text x="502.79" y="258.67" font-size="5.0" fill="#135389" opacity="0.7">−/−</text>
</g>
<rect x="0" y="0" width="520" height="1.1" fill="#1a1a1a"/><rect x="0" y="0" width="1.1" height="276" fill="#1a1a1a"/><rect x="518.6" y="0" width="1.4" height="276" fill="#1a1a1a"/><rect x="0" y="274.6" width="520" height="1.4" fill="#1a1a1a"/>
</svg></div></body></html>
